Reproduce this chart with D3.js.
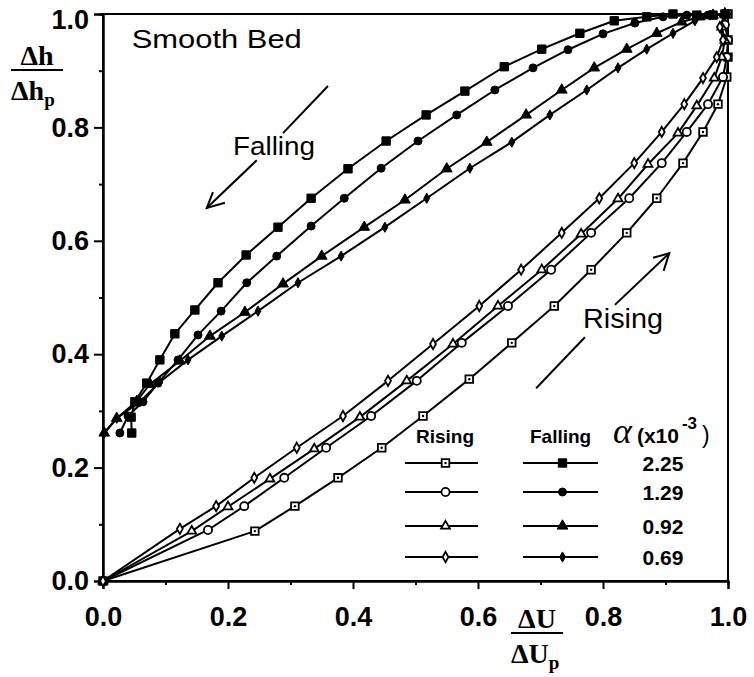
<!DOCTYPE html>
<html>
<head>
<meta charset="utf-8">
<script src="https://cdn.jsdelivr.net/npm/d3@7"></script>
<style>
  body { margin: 0; background: #fff; }
  svg { display: block; }
  text { font-family: "Liberation Sans", Arial, Helvetica, sans-serif; fill: #000; }
  .serif { font-family: "Liberation Serif", "Times New Roman", serif; font-weight: bold; }
</style>
</head>
<body>
<div id="vis"></div>
<script>
const FRAME_WIDTH = 754;
const FRAME_HEIGHT = 677;
const MARGINS = {left: 103, right: 26, top: 14, bottom: 96};

// tick values
const majorTicks = [0.0, 0.2, 0.4, 0.6, 0.8, 1.0];
const minorTicks = [0.1, 0.3, 0.5, 0.7, 0.9];

// legend
const alphaLabels = ["2.25", "1.29", "0.92", "0.69"];

// rising limb (open markers), [dU/dUp, dh/dhp]
const rise_225 = [[0,0],[0.243,0.088],[0.307,0.132],[0.376,0.182],[0.446,0.235],[0.512,0.291],[0.586,0.356],
  [0.654,0.420],[0.722,0.485],[0.781,0.549],[0.838,0.614],[0.886,0.675],[0.928,0.737],[0.960,0.792],
  [0.984,0.841],[0.998,0.889],[1.0,0.924],[1.0,0.954],[1.0,1.0]];
const rise_129 = [[0,0],[0.168,0.090],[0.226,0.132],[0.290,0.182],[0.357,0.235],[0.429,0.291],[0.502,0.353],
  [0.574,0.420],[0.648,0.485],[0.717,0.549],[0.781,0.614],[0.842,0.675],[0.894,0.737],[0.934,0.792],
  [0.968,0.841],[0.992,0.889],[0.998,0.924],[1.0,0.954],[0.995,0.981],[0.997,1.0]];
const rise_092 = [[0,0],[0.142,0.088],[0.200,0.131],[0.267,0.180],[0.338,0.233],[0.411,0.289],[0.486,0.353],
  [0.560,0.418],[0.632,0.485],[0.702,0.549],[0.765,0.612],[0.824,0.674],[0.872,0.735],[0.920,0.790],
  [0.950,0.838],[0.978,0.887],[0.990,0.924],[0.995,0.954],[0.990,0.977],[0.995,1.0]];
const rise_069 = [[0,0],[0.123,0.092],[0.181,0.132],[0.242,0.182],[0.310,0.235],[0.384,0.291],[0.456,0.353],
  [0.528,0.418],[0.602,0.485],[0.669,0.549],[0.734,0.614],[0.794,0.675],[0.850,0.737],[0.894,0.792],
  [0.930,0.841],[0.960,0.887],[0.982,0.924],[0.992,0.954],[0.987,0.977],[0.995,1.0]];

// falling limb (filled markers)
const fall_225 = [[0.995,1.0],[0.976,0.998],[0.950,0.998],[0.912,1.0],[0.870,0.995],[0.818,0.988],[0.763,0.966],
  [0.702,0.938],[0.642,0.907],[0.579,0.864],[0.517,0.822],[0.453,0.776],[0.392,0.727],[0.333,0.675],
  [0.280,0.624],[0.229,0.575],[0.184,0.526],[0.147,0.478],[0.115,0.436],[0.091,0.390],[0.070,0.349],
  [0.051,0.316],[0.045,0.289],[0.046,0.261]];
const fall_129 = [[0.995,1.0],[0.968,0.998],[0.934,0.998],[0.896,0.995],[0.851,0.984],[0.800,0.965],[0.744,0.937],
  [0.688,0.905],[0.627,0.866],[0.566,0.822],[0.504,0.776],[0.445,0.728],[0.386,0.675],[0.333,0.626],
  [0.278,0.573],[0.230,0.526],[0.189,0.476],[0.152,0.434],[0.120,0.390],[0.088,0.349],[0.064,0.316],
  [0.040,0.291],[0.027,0.261]];
const fall_092 = [[0.995,1.0],[0.976,0.998],[0.955,0.995],[0.926,0.986],[0.886,0.966],[0.838,0.938],[0.786,0.905],
  [0.734,0.866],[0.677,0.822],[0.614,0.774],[0.550,0.727],[0.483,0.672],[0.418,0.624],[0.350,0.573],
  [0.288,0.524],[0.227,0.474],[0.171,0.432],[0.123,0.388],[0.075,0.347],[0.054,0.317],[0.022,0.287],
  [0.002,0.261]];
const fall_069 = [[0.995,1.0],[0.971,0.998],[0.947,0.988],[0.912,0.966],[0.870,0.938],[0.824,0.905],[0.774,0.866],
  [0.715,0.822],[0.654,0.774],[0.587,0.728],[0.518,0.675],[0.451,0.624],[0.381,0.573],[0.312,0.526],
  [0.248,0.476],[0.190,0.432],[0.136,0.390],[0.091,0.351],[0.059,0.316],[0.022,0.287],[0.002,0.261]];

// vis dimensions
const VIS_WIDTH = FRAME_WIDTH - MARGINS.left - MARGINS.right;
const VIS_HEIGHT = FRAME_HEIGHT - MARGINS.top - MARGINS.bottom;

const X_SCALE = d3.scaleLinear().domain([0, 1]).range([MARGINS.left, MARGINS.left + VIS_WIDTH]);
const Y_SCALE = d3.scaleLinear().domain([0, 1]).range([MARGINS.top + VIS_HEIGHT, MARGINS.top]);

const FRAME = d3.select("#vis")
  .append("svg")
    .attr("width", FRAME_WIDTH)
    .attr("height", FRAME_HEIGHT);

// marker styles for each alpha (legend order)
const symbols = [d3.symbolSquare, d3.symbolCircle, d3.symbolTriangle, d3.symbolDiamond];
const riseSizes = [58, 52, 34, 30];
const fallSizes = [70, 50, 50, 30];

const series = [
  {data: rise_225, k: 0, filled: false}, {data: rise_129, k: 1, filled: false},
  {data: rise_092, k: 2, filled: false}, {data: rise_069, k: 3, filled: false},
  {data: fall_225, k: 0, filled: true}, {data: fall_129, k: 1, filled: true},
  {data: fall_092, k: 2, filled: true}, {data: fall_069, k: 3, filled: true}
];

// plot frame
FRAME.append("rect")
  .attr("x", X_SCALE(0)).attr("y", Y_SCALE(1))
  .attr("width", X_SCALE(1) - X_SCALE(0)).attr("height", Y_SCALE(0) - Y_SCALE(1))
  .attr("fill", "none").attr("stroke", "#000").attr("stroke-width", 2);

// axes
const fmt = d3.format(".1f");
const xAxis = FRAME.append("g")
  .attr("transform", "translate(0," + Y_SCALE(0) + ")")
  .call(d3.axisBottom(X_SCALE).tickValues(majorTicks).tickFormat(fmt).tickSize(8).tickPadding(18));
const xMinor = FRAME.append("g")
  .attr("transform", "translate(0," + Y_SCALE(0) + ")")
  .call(d3.axisBottom(X_SCALE).tickValues(minorTicks).tickFormat("").tickSize(4));
const yAxis = FRAME.append("g")
  .attr("transform", "translate(" + X_SCALE(0) + ",0)")
  .call(d3.axisLeft(Y_SCALE).tickValues(majorTicks).tickFormat(fmt).tickSize(9).tickPadding(5));
const yMinor = FRAME.append("g")
  .attr("transform", "translate(" + X_SCALE(0) + ",0)")
  .call(d3.axisLeft(Y_SCALE).tickValues(minorTicks).tickFormat("").tickSize(4));

[xAxis, xMinor, yAxis, yMinor].forEach(g => {
  g.select(".domain").attr("stroke-width", 2);
  g.selectAll(".tick line").attr("stroke-width", 2);
  g.selectAll(".tick text")
    .attr("font-family", "Liberation Sans, Arial, sans-serif")
    .attr("font-weight", "bold")
    .attr("font-size", "27px");
});
// top label sits a little lower so it stays on the page
yAxis.selectAll(".tick").filter(d => d === 1).select("text").attr("dy", "0.55em");

// curves
const line = d3.line().x(d => X_SCALE(d[0])).y(d => Y_SCALE(d[1]));

series.forEach(s => {
  FRAME.append("path")
    .datum(s.data)
    .attr("d", line)
    .attr("fill", "none")
    .attr("stroke", "#000")
    .attr("stroke-width", 2)
    .attr("stroke-linejoin", "round");
});

function drawMarker(g, k, filled, cx, cy) {
  const size = filled ? fallSizes[k] : riseSizes[k];
  g.append("path")
    .attr("d", d3.symbol().type(symbols[k]).size(size)())
    .attr("transform", "translate(" + cx + "," + cy + ")")
    .attr("fill", filled ? "#000" : "#fff")
    .attr("stroke", "#000")
    .attr("stroke-width", filled ? 1 : 1.8);
  if (!filled && k === 0) {
    g.append("circle").attr("cx", cx).attr("cy", cy).attr("r", 1.2).attr("fill", "#000");
  }
}

series.forEach(s => {
  const g = FRAME.append("g");
  s.data.forEach(d => drawMarker(g, s.k, s.filled, X_SCALE(d[0]), Y_SCALE(d[1])));
});

// annotations
FRAME.append("text").attr("x", X_SCALE(0.046)).attr("y", Y_SCALE(0.94))
  .attr("font-size", "26px").attr("textLength", 170).attr("lengthAdjust", "spacingAndGlyphs")
  .text("Smooth Bed");
FRAME.append("text").attr("x", X_SCALE(0.208)).attr("y", Y_SCALE(0.751))
  .attr("font-size", "26px").attr("textLength", 82).attr("lengthAdjust", "spacingAndGlyphs")
  .text("Falling");
FRAME.append("text").attr("x", X_SCALE(0.768)).attr("y", Y_SCALE(0.446))
  .attr("font-size", "27px").attr("textLength", 80).attr("lengthAdjust", "spacingAndGlyphs")
  .text("Rising");

const arrows = [
  [[0.360,0.873],[0.288,0.790]],
  [[0.246,0.742],[0.166,0.658]],
  [[0.176,0.686],[0.166,0.658],[0.195,0.667]],
  [[0.819,0.487],[0.906,0.578]],
  [[0.880,0.570],[0.906,0.578],[0.897,0.547]],
  [[0.771,0.430],[0.693,0.340]]
];
arrows.forEach(a => {
  FRAME.append("path").datum(a).attr("d", line)
    .attr("fill", "none").attr("stroke", "#000").attr("stroke-width", 2);
});

// axis titles (fractions)
function fraction(cx, yTop, sym) {
  const g = FRAME.append("g");
  g.append("text").attr("class", "serif").attr("x", cx).attr("y", yTop)
    .attr("text-anchor", "middle").attr("font-size", "28px").text("\u0394" + sym);
  g.append("line").attr("x1", cx - 26).attr("x2", cx + 26)
    .attr("y1", yTop + 5).attr("y2", yTop + 5).attr("stroke", "#000").attr("stroke-width", 2.2);
  const t = g.append("text").attr("class", "serif").attr("x", cx - 26).attr("y", yTop + 35)
    .attr("font-size", "28px").text("\u0394" + sym);
  t.append("tspan").attr("font-size", "19px").attr("dy", 6).text("p");
}
fraction(37, 65, "h");
fraction(537, 628, "U");

// legend
const LEG = {riseX: [405, 478], fallX: [523, 598], numX: 663, rows: [463, 492, 526, 557]};
FRAME.append("text").attr("x", 416).attr("y", 443).attr("font-size", "19px")
  .attr("font-weight", "bold").text("Rising");
FRAME.append("text").attr("x", 530).attr("y", 443).attr("font-size", "19px")
  .attr("font-weight", "bold").text("Falling");
const alpha = FRAME.append("text").attr("x", 613).attr("y", 443).attr("font-size", "21px");
alpha.append("tspan").attr("font-family", "Liberation Serif, serif").attr("font-style", "italic")
  .attr("font-size", "36px").text("\u03b1");
alpha.append("tspan").attr("dx", 5).attr("font-weight", "bold").text("(x10");
alpha.append("tspan").attr("dy", -14).attr("dx", 3).attr("font-size", "17px").attr("font-weight", "bold").text("-3");
alpha.append("tspan").attr("dy", 14).attr("dx", 5).attr("font-size", "23px").text(")");

alphaLabels.forEach((lab, i) => {
  const y = LEG.rows[i];
  const g = FRAME.append("g");
  g.append("line").attr("x1", LEG.riseX[0]).attr("x2", LEG.riseX[1]).attr("y1", y).attr("y2", y)
    .attr("stroke", "#000").attr("stroke-width", 2);
  g.append("line").attr("x1", LEG.fallX[0]).attr("x2", LEG.fallX[1]).attr("y1", y).attr("y2", y)
    .attr("stroke", "#000").attr("stroke-width", 2);
  drawMarker(g, i, false, (LEG.riseX[0] + LEG.riseX[1]) / 2 + 4, y);
  drawMarker(g, i, true, (LEG.fallX[0] + LEG.fallX[1]) / 2 + 2, y);
  g.append("text").attr("x", LEG.numX).attr("y", y + 8).attr("text-anchor", "middle")
    .attr("font-size", "21px").attr("font-weight", "bold").text(lab);
});
</script>
</body>
</html>
